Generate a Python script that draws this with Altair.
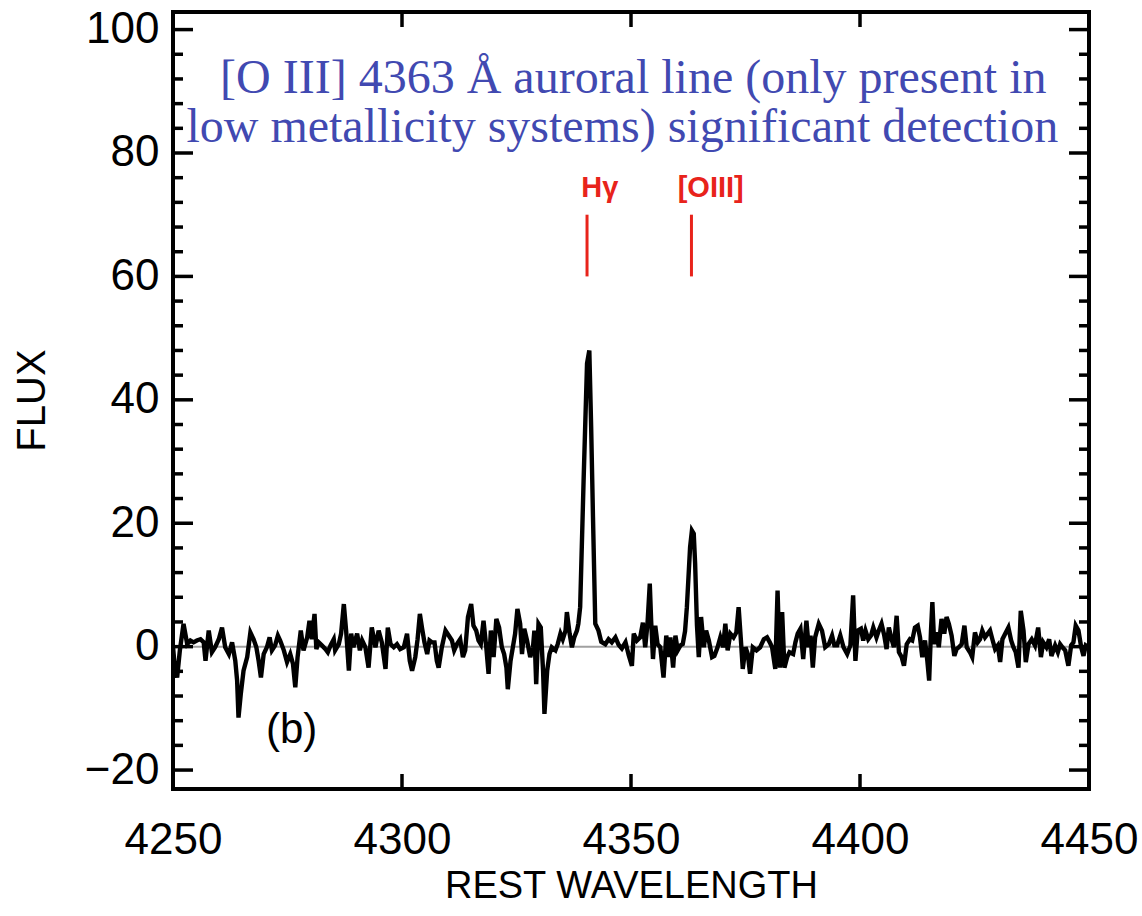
import altair as alt
import pandas as pd

# ---------------- data ----------------
wavelength = [
    4250.0, 4250.4, 4250.9, 4251.5, 4252.3, 4253.1, 4253.8, 4254.5, 4255.2, 4256.0,
    4256.7, 4257.1, 4257.8, 4258.5, 4259.2, 4260.0, 4260.7, 4261.4, 4262.2, 4262.9,
    4263.6, 4264.0, 4264.3, 4264.8, 4265.4, 4266.2, 4266.9, 4267.6, 4268.2, 4268.7,
    4269.2, 4269.8, 4270.5, 4271.1, 4271.6, 4272.3, 4272.9, 4273.4, 4274.2, 4274.9,
    4275.6, 4276.2, 4276.7, 4277.2, 4277.9, 4278.5, 4279.3, 4279.8, 4280.3, 4280.9,
    4281.3, 4281.8, 4282.5, 4283.3, 4283.8, 4284.4, 4285.1, 4285.4, 4286.2, 4286.7,
    4287.3, 4287.8, 4288.4, 4288.9, 4289.4, 4290.2, 4290.8, 4291.3, 4292.0, 4292.7,
    4293.4, 4294.2, 4294.9, 4295.6, 4296.4, 4296.9, 4297.5, 4298.2, 4298.9, 4299.6,
    4300.4, 4301.1, 4301.7, 4302.2, 4302.9, 4303.4, 4303.9, 4304.4, 4304.9, 4305.5,
    4306.0, 4306.5, 4307.1, 4307.6, 4308.0, 4308.7, 4309.5, 4310.2, 4310.9, 4311.4,
    4312.0, 4312.7, 4313.3, 4313.8, 4314.4, 4315.1, 4315.6, 4316.2, 4316.7, 4317.2,
    4317.8, 4318.4, 4318.9, 4319.4, 4320.0, 4320.6, 4321.2, 4321.8, 4322.3, 4322.8,
    4323.1, 4323.7, 4324.2, 4324.7, 4325.2, 4325.8, 4326.2, 4326.7, 4327.3, 4328.0,
    4328.6, 4328.9, 4329.3, 4329.8, 4330.3, 4330.8, 4331.1, 4331.7, 4332.2, 4332.7,
    4333.5, 4334.0, 4334.6, 4335.1, 4335.7, 4336.0, 4336.6, 4337.1, 4337.6, 4338.2,
    4338.5, 4338.9, 4339.65, 4340.4, 4340.9, 4341.3, 4341.7, 4342.2, 4342.9, 4343.5,
    4344.4, 4345.1, 4345.8, 4346.6, 4347.3, 4348.0, 4348.8, 4349.5, 4350.2, 4350.6,
    4351.3, 4352.0, 4352.6, 4353.1, 4353.6, 4354.1, 4354.4, 4354.8, 4355.3, 4355.8,
    4356.4, 4357.1, 4357.7, 4358.2, 4358.6, 4359.2, 4359.7, 4360.2, 4360.8, 4361.3,
    4361.8, 4362.2, 4362.9, 4363.3, 4363.7, 4364.0, 4364.4, 4364.8, 4365.3, 4365.9,
    4366.4, 4367.0, 4367.7, 4368.2, 4368.9, 4369.5, 4370.1, 4370.6, 4371.1, 4371.7,
    4372.4, 4373.0, 4373.5, 4374.0, 4374.4, 4375.0, 4375.5, 4376.0, 4376.6, 4377.4,
    4378.2, 4379.0, 4379.7, 4380.3, 4380.8, 4381.5, 4382.0, 4382.5, 4383.0, 4383.5,
    4384.1, 4384.6, 4385.4, 4385.9, 4386.4, 4387.0, 4387.6, 4388.3, 4388.8, 4389.2,
    4389.7, 4390.2, 4391.0, 4391.7, 4392.4, 4393.2, 4393.9, 4394.4, 4395.0, 4395.7,
    4396.4, 4397.2, 4397.9, 4398.5, 4399.0, 4399.5, 4400.2, 4400.7, 4401.2, 4401.8,
    4402.4, 4402.9, 4403.6, 4404.1, 4404.7, 4405.3, 4405.8, 4406.3, 4406.9, 4407.4,
    4408.0, 4408.5, 4409.1, 4409.6, 4410.2, 4410.9, 4411.4, 4412.0, 4412.6, 4413.1,
    4413.6, 4414.2, 4414.7, 4415.1, 4415.5, 4415.8, 4416.2, 4416.7, 4417.2, 4417.8,
    4418.4, 4418.9, 4419.4, 4420.0, 4420.6, 4421.1, 4421.6, 4422.2, 4422.8, 4423.3,
    4424.0, 4424.5, 4425.1, 4425.7, 4426.2, 4426.7, 4427.3, 4427.9, 4428.4, 4428.9,
    4429.5, 4430.1, 4430.6, 4431.1, 4431.7, 4432.4, 4433.0, 4433.5, 4434.0, 4434.6,
    4435.1, 4435.7, 4436.2, 4436.8, 4437.5, 4438.2, 4438.9, 4439.5, 4440.0, 4440.7,
    4441.3, 4441.8, 4442.6, 4443.2, 4443.7, 4444.2, 4444.8, 4445.5, 4446.1, 4446.6,
    4447.1, 4447.7, 4448.3, 4448.8, 4449.3, 4449.9,
]

flux = [
    0.0, -3.4, -5.0, -0.6, 3.7, 0.4, 1.0, 0.7, 1.0, 1.2,
    0.7, -2.3, 2.6, -0.9, -0.1, 1.2, 3.1, -0.1, -1.2, 0.7,
    -2.3, -5.5, -11.5, -7.7, -3.9, -1.7, 2.3, 1.2, -0.1, -2.3,
    -5.0, -1.2, -0.1, 1.5, -0.6, 0.2, 1.8, 1.0, -0.6, -2.5,
    -1.2, -2.8, -6.6, -1.7, 2.6, -0.6, 1.5, 4.2, 1.2, 5.3,
    -0.4, 0.7, 0.2, -0.4, -0.9, 0.2, 1.2, -0.6, 0.4, 2.1,
    6.9, 2.6, -3.9, 2.1, -0.1, 2.1, -0.6, 1.0, -0.1, -3.4,
    3.1, -0.1, 2.6, 0.7, -3.6, 3.1, 0.4, -0.1, 0.4, -0.4,
    -0.1, 2.1, -2.3, -3.9, -1.7, 1.2, 5.3, 2.9, 0.7, -1.2,
    1.0, 0.7, 0.7, -2.3, -3.4, -0.1, 2.6, 1.8, 1.0, -0.6,
    0.4, 1.2, -1.7, -0.6, 4.8, 6.9, 3.4, 2.6, 1.0, 0.4,
    4.2, -0.1, -4.4, 2.6, -1.7, 4.5, 3.1, -0.1, -1.2, -3.4,
    -6.9, -2.3, -0.1, 2.1, 6.1, 3.7, -1.2, 2.9, 1.0, -1.7,
    -0.1, 2.6, -6.1, 3.7, 3.1, -3.9, -10.9, -3.9, -1.2, -0.1,
    -0.6, 0.4, 2.1, 1.2, 2.6, 5.6, 2.1, -0.1, 1.5, 2.6,
    3.7, 6.4, 26.9, 45.9, 48.0, 35.6, 21.0, 3.7, 2.6, 0.8,
    0.4, 1.2, 0.7, 1.5, 0.3, -0.3, 0.7, -1.4, -3.1, 2.1,
    1.0, 1.5, 3.9, -0.1, 3.7, 10.2, 4.2, -2.0, 3.4, 0.4,
    -0.1, -5.0, 1.8, -1.7, 1.5, -3.4, 1.8, -0.6, 0.2, 0.4,
    2.5, 6.4, 16.1, 18.8, 18.3, 13.5, 3.5, -1.7, 4.8, -0.1,
    2.6, 1.0, -1.7, -1.5, -0.1, 1.5, -0.1, 3.7, -0.6, 2.1,
    1.5, 2.3, 6.4, 1.0, -3.6, -0.1, -1.2, -4.4, -0.1, -0.6,
    -0.1, 1.2, 1.5, 0.7, -0.1, -3.6, 9.1, -3.4, 5.6, -3.4,
    -1.7, -0.9, -1.2, 0.7, 2.1, 2.9, -2.0, 4.2, -0.1, 1.8,
    -3.4, 1.5, 3.7, 2.6, -0.1, 0.4, 1.8, 0.2, 0.2, 1.8,
    -0.1, -1.2, 0.2, 8.3, -2.3, 2.6, 2.9, 1.0, 2.6, 1.2,
    1.8, 3.1, 1.5, 2.6, 3.7, 1.8, -0.4, 3.1, 1.2, -0.1,
    5.0, -0.9, -1.7, -3.1, 0.4, 1.2, 1.0, 3.1, 3.4, 1.5,
    -1.7, 1.0, -2.3, -5.5, 2.6, 7.2, 0.4, 2.3, -0.1, 4.5,
    2.1, 4.8, 3.7, 1.8, -1.5, -0.4, -0.1, 0.4, 3.4, -0.1,
    -0.9, -1.7, 2.3, 0.7, 1.2, 2.6, 1.5, 2.1, 2.6, 1.2,
    -0.4, 0.2, -2.5, 1.2, 2.1, 3.1, 1.0, -0.1, -0.9, -3.4,
    5.8, 2.6, -2.5, 0.4, 1.2, 0.2, 3.1, -1.7, 0.7, -0.1,
    1.2, -1.5, 0.2, -0.9, 0.4, -0.1, -0.6, -3.1, 0.2, 0.7,
    3.4, 2.6, -0.1, -1.5, 0.2, -0.1,
]

x_tick_labels = [4250, 4300, 4350, 4400, 4450]
x_inner_ticks = [4300, 4350, 4400]
y_major_ticks = [-20, 0, 20, 40, 60, 80, 100]
y_minor_ticks = [-16, -12, -8, -4, 4, 8, 12, 16, 24, 28, 32, 36, 44, 48, 52, 56,
                 64, 68, 72, 76, 84, 88, 92, 96]

line_ids = ["H\u03b3", "[OIII]"]
line_wl = [4340.4, 4363.2]
line_low = [60, 60]
line_high = [70, 70]
line_label_wl = [4343.2, 4367.4]
line_label_flux = [72.8, 72.8]

note_lines = ["[O III] 4363 \u00c5 auroral line (only present in",
              "low metallicity systems) significant detection"]
note_wl = [4350.5, 4348.1]
note_flux = [89.7, 81.8]

panel_tag = ["(b)"]
panel_wl = [4275.9]
panel_flux = [-15.6]

# ---------------- chart ----------------
W, H = 916, 777
SANS = "Liberation Sans"
SERIF = "Liberation Serif"
RED = "#e8231b"
BLUE = "#4149b1"

xs = alt.Scale(domain=[4250, 4450], nice=False, zero=False)
ys = alt.Scale(domain=[-23.07, 102.85], nice=False, zero=False)

X_AXIS = alt.Axis(
    values=x_tick_labels, format="d", title="REST WAVELENGTH",
    ticks=False, tickSize=0, domain=False, grid=False,
    labelFont=SANS, labelFontSize=44, labelColor="black", labelPadding=29,
    labelFlush=False, labelOverlap=False,
    titleFont=SANS, titleFontSize=38, titleFontWeight="normal",
    titleColor="black", titleY=97, titleBaseline="middle")

Y_AXIS = alt.Axis(
    values=y_major_ticks, format="d", title="FLUX",
    ticks=False, tickSize=0, domain=False, grid=False,
    labelFont=SANS, labelFontSize=44, labelColor="black", labelPadding=14,
    labelOverlap=False,
    titleFont=SANS, titleFontSize=40, titleFontWeight="normal",
    titleColor="black", titleX=-141, titleY=388, titleAngle=270,
    titleAlign="center", titleBaseline="middle")


def X(field):
    return alt.X(field, scale=xs, axis=X_AXIS)


def Y(field):
    return alt.Y(field, scale=ys, axis=Y_AXIS)


spec_df = pd.DataFrame({"wl": wavelength, "flux": flux})

spectrum = alt.Chart(spec_df).mark_line(
    color="black", strokeWidth=4.4, clip=True, strokeJoin="miter"
).encode(
    x=X("wl:Q"),
    y=Y("flux:Q"),
    order="wl:Q",
)

zero_line = alt.Chart(pd.DataFrame({"z": [0]})).mark_rule(
    color="#a0a0a0", strokeWidth=2
).encode(y=Y("z:Q"))


def yticks(values, x0, x1):
    return alt.Chart(pd.DataFrame({"v": values})).mark_rule(
        color="black", strokeWidth=3.5
    ).encode(y=Y("v:Q"), x=alt.value(x0), x2=alt.value(x1))


def xticks(values, y0, y1):
    return alt.Chart(pd.DataFrame({"v": values})).mark_rule(
        color="black", strokeWidth=3.5
    ).encode(x=X("v:Q"), y=alt.value(y0), y2=alt.value(y1))


ticks = [
    yticks(y_major_ticks, 0, 20), yticks(y_major_ticks, W, W - 20),
    yticks(y_minor_ticks, 0, 10), yticks(y_minor_ticks, W, W - 10),
    xticks(x_inner_ticks, H, H - 15), xticks(x_inner_ticks, 0, 15),
]

lines_df = pd.DataFrame({"id": line_ids, "wl": line_wl, "lo": line_low,
                         "hi": line_high, "lwl": line_label_wl,
                         "lf": line_label_flux})

marker_rules = alt.Chart(lines_df).mark_rule(color=RED, strokeWidth=3).encode(
    x=X("wl:Q"), y=Y("lo:Q"), y2="hi:Q",
)

marker_text = alt.Chart(lines_df).mark_text(
    color=RED, font=SANS, fontSize=29, fontWeight="bold",
    align="center", baseline="alphabetic"
).encode(x=X("lwl:Q"), y=Y("lf:Q"), text="id:N")

note_df = pd.DataFrame({"t": note_lines, "wl": note_wl, "f": note_flux})
note_text = alt.Chart(note_df).mark_text(
    color=BLUE, font=SERIF, fontSize=48, align="center", baseline="alphabetic"
).encode(x=X("wl:Q"), y=Y("f:Q"), text="t:N")

tag_df = pd.DataFrame({"t": panel_tag, "wl": panel_wl, "f": panel_flux})
tag_text = alt.Chart(tag_df).mark_text(
    color="black", font=SANS, fontSize=42, align="center", baseline="alphabetic"
).encode(x=X("wl:Q"), y=Y("f:Q"), text="t:N")

chart = alt.layer(
    zero_line, spectrum, *ticks, marker_rules, marker_text, note_text, tag_text
).properties(
    width=W, height=H,
    padding={"left": 173, "top": 12, "right": 53, "bottom": 127},
    autosize=alt.AutoSizeParams(type="none"),
    background="white",
).configure_view(stroke="black", strokeWidth=4)

chart.save("out.html", embed_options={"renderer": "svg", "actions": False})
